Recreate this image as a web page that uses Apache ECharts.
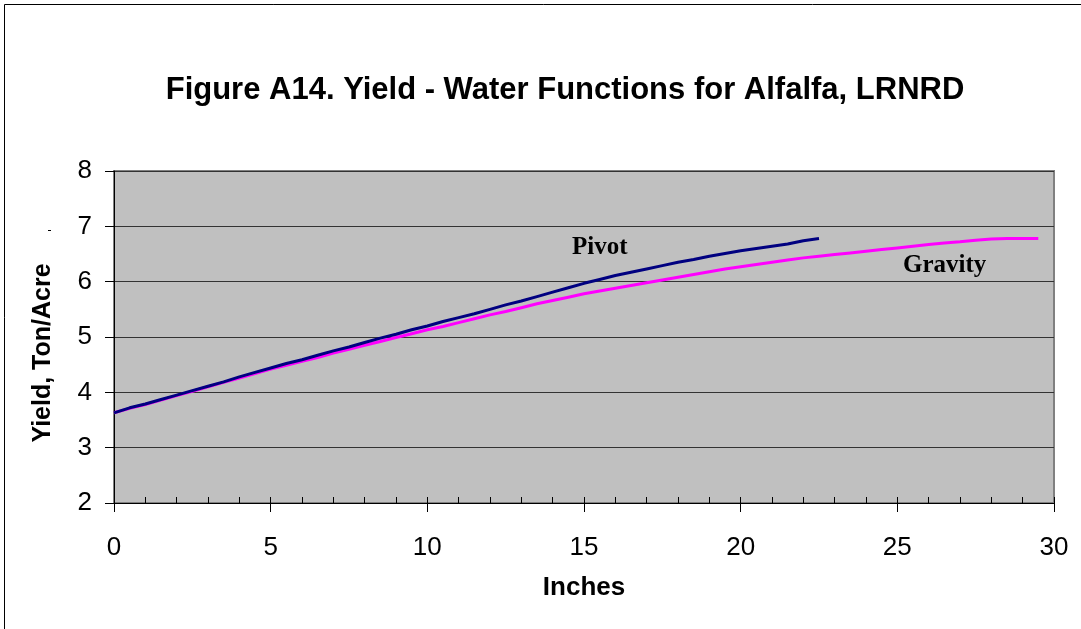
<!DOCTYPE html>
<html>
<head>
<meta charset="utf-8">
<script src="https://cdn.jsdelivr.net/npm/echarts@6/dist/echarts.min.js"></script>
<style>
  html, body { margin: 0; padding: 0; background: #fff; }
  #chart { width: 1081px; height: 629px; }
</style>
</head>
<body>
<div id="chart"></div>
<script>
// Applied water (inches) and yield (ton/acre) for the two irrigation systems
const pivotInches = [0,0.5,1,1.5,2,2.5,3,3.5,4,4.5,5,5.5,6,6.5,7,7.5,8,8.5,9,9.5,10,10.5,11,11.5,12,12.5,13,13.5,14,14.5,15,15.5,16,16.5,17,17.5,18,18.5,19,19.5,20,20.5,21,21.5,22,22.5];
const pivotYield = [3.63,3.72,3.79,3.87,3.95,4.03,4.11,4.19,4.28,4.36,4.44,4.52,4.59,4.67,4.75,4.82,4.90,4.98,5.05,5.13,5.20,5.28,5.35,5.42,5.50,5.58,5.65,5.73,5.81,5.89,5.97,6.04,6.11,6.17,6.23,6.29,6.35,6.40,6.46,6.51,6.56,6.60,6.64,6.68,6.74,6.78];

const gravityInches = [0,0.5,1,1.5,2,2.5,3,3.5,4,4.5,5,5.5,6,6.5,7,7.5,8,8.5,9,9.5,10,10.5,11,11.5,12,12.5,13,13.5,14,14.5,15,15.5,16,16.5,17,17.5,18,18.5,19,19.5,20,20.5,21,21.5,22,22.5,23,23.5,24,24.5,25,25.5,26,26.5,27,27.5,28,28.5,29,29.5];
const gravityYield = [3.63,3.71,3.78,3.86,3.94,4.02,4.10,4.18,4.26,4.34,4.42,4.49,4.56,4.63,4.71,4.78,4.85,4.92,4.99,5.06,5.13,5.19,5.26,5.33,5.40,5.46,5.53,5.60,5.66,5.72,5.78,5.83,5.88,5.93,5.98,6.03,6.08,6.13,6.18,6.23,6.27,6.31,6.35,6.39,6.43,6.46,6.49,6.52,6.55,6.58,6.61,6.64,6.67,6.70,6.72,6.75,6.77,6.78,6.78,6.78];

const titleText = 'Figure A14. Yield - Water Functions for Alfalfa, LRNRD';
const xName = 'Inches';
const yName = 'Yield, Ton/Acre';
const seriesNames = ['Pivot', 'Gravity'];

const pair = (xs, ys) => xs.map((x, i) => [x, ys[i]]);

const chart = echarts.init(document.getElementById('chart'), null, { renderer: 'canvas' });

const sans = 'Arial, "Liberation Sans", sans-serif';
const serif = '"Times New Roman", "Liberation Serif", serif';

chart.setOption({
  backgroundColor: '#ffffff',
  animation: false,
  title: {
    text: titleText,
    left: 560,
    top: 70,
    textAlign: 'center',
    textStyle: { fontFamily: sans, fontWeight: 'bold', fontSize: 31, color: '#000' }
  },
  grid: {
    left: 114, top: 171, right: 27, bottom: 126,
    show: true,
    backgroundColor: '#c0c0c0',
    borderColor: '#808080',
    borderWidth: 2
  },
  xAxis: [
    {
      type: 'value', min: 0, max: 30, interval: 5,
      name: xName, nameLocation: 'middle', nameGap: 72,
      nameTextStyle: { fontFamily: sans, fontWeight: 'bold', fontSize: 26, color: '#000' },
      axisLine: { show: true, onZero: false, lineStyle: { color: '#000', width: 1 } },
      axisTick: { show: true, inside: false, length: 9, lineStyle: { color: '#000' } },
      axisLabel: { fontFamily: sans, fontSize: 26, color: '#000', margin: 32 },
      splitLine: { show: false }
    },
    {
      type: 'value', min: 0, max: 30, interval: 1, position: 'bottom',
      axisLine: { show: false, onZero: false },
      axisTick: { show: true, inside: true, length: 6, lineStyle: { color: '#000' } },
      axisLabel: { show: false },
      splitLine: { show: false }
    }
  ],
  yAxis: {
    type: 'value', min: 2, max: 8, interval: 1,
    axisLine: { show: true, lineStyle: { color: '#000', width: 1 } },
    axisTick: { show: true, inside: false, length: 9, lineStyle: { color: '#000' } },
    axisLabel: { fontFamily: sans, fontSize: 26, color: '#000', margin: 22 },
    splitLine: { show: true, lineStyle: { color: '#333', width: 1 } }
  },
  series: [
    {
      name: seriesNames[0], type: 'line', xAxisIndex: 0,
      data: pair(pivotInches, pivotYield),
      showSymbol: false, symbol: 'none', smooth: false,
      lineStyle: { color: '#000080', width: 3 },
      z: 3
    },
    {
      name: seriesNames[1], type: 'line', xAxisIndex: 0,
      data: pair(gravityInches, gravityYield),
      showSymbol: false, symbol: 'none', smooth: false,
      lineStyle: { color: '#ff00ff', width: 3 },
      z: 2
    }
  ],
  graphic: [
    {
      type: 'rect', silent: true,
      shape: { x: 4.5, y: 4.5, width: 1090, height: 640 },
      style: { fill: 'none', stroke: '#000', lineWidth: 1 }
    },
    {
      type: 'line', silent: true,
      shape: { x1: 48, y1: 230.5, x2: 51, y2: 230.5 },
      style: { stroke: '#000', lineWidth: 1 }
    },
    {
      // vertical axis title
      type: 'text', x: 43, y: 353, rotation: Math.PI / 2, silent: true,
      style: { text: yName, font: 'bold 25px ' + sans, fill: '#000', align: 'center', verticalAlign: 'middle' }
    },
    {
      type: 'text', x: 572, y: 248, silent: true,
      style: { text: seriesNames[0], font: 'bold 25px ' + serif, fill: '#000', verticalAlign: 'middle' }
    },
    {
      type: 'text', x: 903, y: 266, silent: true,
      style: { text: seriesNames[1], font: 'bold 25px ' + serif, fill: '#000', verticalAlign: 'middle' }
    }
  ]
});
</script>
</body>
</html>
